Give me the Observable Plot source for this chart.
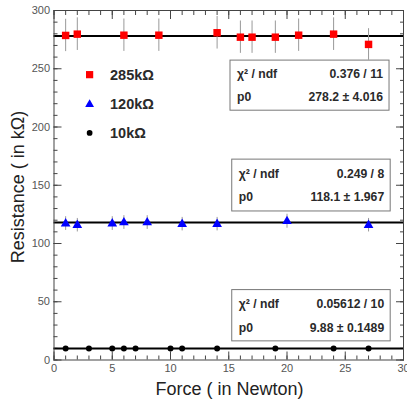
<!DOCTYPE html>
<html><head><meta charset="utf-8">
<script src="https://cdn.jsdelivr.net/npm/d3@7"></script>
<script src="https://cdn.jsdelivr.net/npm/@observablehq/plot@0.6"></script>
<style>
html,body{margin:0;padding:0;background:#fff;}
#chart svg{display:block;font-family:"Liberation Sans",Arial,Helvetica,sans-serif;}
</style>
</head><body><div id="chart"></div>
<script>
// ---- data ----
const seriesNames = ["285k\u03A9", "120k\u03A9", "10k\u03A9"];
const forceRed = [1, 2, 6, 9, 14, 16, 17, 19, 21, 24, 27];
const resRed   = [278.6, 279.7, 278.8, 278.8, 280.9, 277.1, 277.1, 277.1, 278.8, 279.7, 270.9];
const errRed   = [13.9, 14.0, 13.9, 13.9, 14.0, 13.9, 13.9, 13.9, 13.9, 14.0, 13.5];
const forceBlue = [1, 2, 5, 6, 8, 11, 14, 20, 27];
const resBlue   = [117.1, 115.7, 117.1, 118.0, 118.0, 116.6, 116.6, 119.1, 115.7];
const errBlue   = [5.9, 5.8, 5.9, 5.9, 5.9, 5.8, 5.8, 6.0, 5.8];
const forceBlack = [1, 3, 5, 6, 7, 10, 11, 14, 19, 24, 27];
const resBlack   = [9.88, 9.88, 9.88, 9.88, 9.88, 9.88, 9.88, 9.88, 9.88, 9.88, 9.88];
const errBlack   = [0.49, 0.49, 0.49, 0.49, 0.49, 0.49, 0.49, 0.49, 0.49, 0.49, 0.49];
const fitP0 = [278.2, 118.1, 9.88];
const statChi = ["0.376 / 11", "0.249 / 8", "0.05612 / 10"];
const statP0  = ["278.2 \u00B1 4.016", "118.1 \u00B1 1.967", "9.88 \u00B1 0.1489"];
const xMajor = [0, 5, 10, 15, 20, 25, 30];
const xMinor = d3.range(0, 31, 1);
const yMajor = [0, 50, 100, 150, 200, 250, 300];
const yMinor = d3.range(0, 301, 10);

const mk = (xs, ys, es) => xs.map((x, i) => ({x, y: ys[i], e: es[i]}));
const red = mk(forceRed, resRed, errRed);
const blue = mk(forceBlue, resBlue, errBlue);
const black = mk(forceBlack, resBlack, errBlack);

const W = 407, H = 403;
const axisColor = "#444";
const labelStyle = {fontSize: 11, fill: "#555", label: null};
const tickOnly = (anchor, ticks, size) => (anchor === "left" || anchor === "right")
  ? Plot.axisY({anchor, ticks, tickSize: size, tickFormat: () => "", label: null, stroke: axisColor})
  : Plot.axisX({anchor, ticks, tickSize: size, tickFormat: () => "", label: null, stroke: axisColor});

const plot = Plot.plot({
  width: W, height: H,
  marginLeft: 53.5, marginRight: 4, marginTop: 10, marginBottom: 43.5,
  x: {domain: [0, 30]},
  y: {domain: [0, 300]},
  marks: [
    Plot.axisY({anchor: "left", ticks: yMajor, tickSize: 0, tickPadding: 4, ...labelStyle}),
    Plot.axisX({anchor: "bottom", ticks: xMajor, tickSize: 0, tickPadding: 4, ...labelStyle}),
    tickOnly("left", yMajor, -8), tickOnly("left", yMinor, -4),
    tickOnly("right", yMajor, -8), tickOnly("right", yMinor, -4),
    tickOnly("bottom", xMajor, -8), tickOnly("bottom", xMinor, -4),
    tickOnly("top", xMajor, -8), tickOnly("top", xMinor, -4),
    Plot.ruleY(fitP0, {stroke: "#000", strokeWidth: 2}),
    Plot.ruleX([...red, ...blue, ...black], {x: "x", y1: d => d.y - d.e, y2: d => d.y + d.e, stroke: "#999", strokeWidth: 1}),
    Plot.dot(red, {x: "x", y: "y", symbol: "square", r: 4.2, fill: "#ff0000", stroke: null}),
    Plot.dot(blue, {x: "x", y: "y", symbol: "triangle", r: 3.6, fill: "#0000ff", stroke: null}),
    Plot.dot(black, {x: "x", y: "y", symbol: "circle", r: 3, fill: "#000", stroke: null}),
    Plot.frame({stroke: axisColor})
  ]
});
document.getElementById("chart").appendChild(plot);

const svg = d3.select(plot);
const xs = plot.scale("x"), ys = plot.scale("y");
const X = v => xs.apply(v), Y = v => ys.apply(v);

// stat boxes (in data units)
const boxes = [
  {x1: 15.15, x2: 28.8, y1: 257, y2: 214},
  {x1: 15.3, x2: 28.9, y1: 172, y2: 127.5},
  {x1: 15.3, x2: 28.9, y1: 60, y2: 16}
];
const g = svg.append("g").attr("text-anchor", "start");
boxes.forEach((b, i) => {
  const x1 = X(b.x1), x2 = X(b.x2), y1 = Y(b.y1), y2 = Y(b.y2);
  g.append("rect").attr("x", x1).attr("y", y1).attr("width", x2 - x1).attr("height", y2 - y1)
    .attr("fill", "#fff").attr("stroke", "#777").attr("stroke-width", 1);
  const h = y2 - y1;
  const r1 = y1 + h * 0.27 + 4.5, r2 = y1 + h * 0.73 + 4.5;
  const st = sel => sel.attr("font-size", 12.2).attr("font-weight", "bold").attr("fill", "#2a2a2a");
  st(g.append("text").attr("x", x1 + 7).attr("y", r1).attr("text-anchor", "start").text("\u03C7\u00B2 / ndf"));
  st(g.append("text").attr("x", x2 - 6).attr("y", r1).attr("text-anchor", "end").text(statChi[i]));
  st(g.append("text").attr("x", x1 + 7).attr("y", r2).attr("text-anchor", "start").text("p0"));
  st(g.append("text").attr("x", x2 - 6).attr("y", r2).attr("text-anchor", "end").text(statP0[i]));
});

// legend
const legY = [244.5, 219, 194.5];
const legSym = [d3.symbolSquare, d3.symbolTriangle, d3.symbolCircle];
const legSize = [52, 34, 26];
const legCol = ["#ff0000", "#0000ff", "#000"];
seriesNames.forEach((n, i) => {
  g.append("path").attr("d", d3.symbol(legSym[i], legSize[i])())
    .attr("transform", `translate(${X(3.1)},${Y(legY[i])})`).attr("fill", legCol[i]);
  g.append("text").attr("x", X(4.85)).attr("y", Y(legY[i]) + 5).attr("font-size", 14.5)
    .attr("text-anchor", "start").attr("font-weight", "bold").attr("fill", "#2a2a2a").text(n);
});

// axis titles
svg.append("text").attr("transform", `translate(24,${Y(148)}) rotate(-90)`)
  .attr("text-anchor", "middle").attr("font-size", 18).attr("fill", "#222").text("Resistance ( in k\u03A9)");
svg.append("text").attr("x", X(15.1)).attr("y", 395)
  .attr("text-anchor", "middle").attr("font-size", 18).attr("fill", "#222").text("Force ( in Newton)");
</script>
</body></html>
